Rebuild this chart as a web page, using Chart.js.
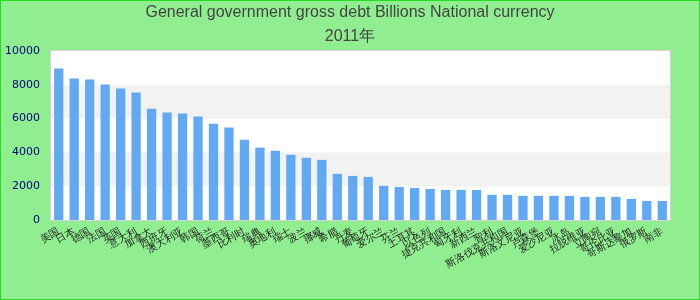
<!DOCTYPE html>
<html>
  <head>
    <title>General government gross debt</title>
    <script src="https://cdn.jsdelivr.net/npm/chart.js"></script>
    <style>
      body { margin: 0; }
      .frame { width: 700px; height: 300px; box-sizing: border-box; border: 1px solid #22dd22; background: #90ee90; }
    </style>
  </head>
  <body>
    <div class="frame">
      <canvas id="debtChart" width="698" height="298"></canvas>
    </div>
    <script>
  const countries = [
    "美国", "日本", "德国", "法国", "英国", "意大利", "加拿大", "西班牙",
    "澳大利亚", "韩国", "荷兰", "墨西哥", "比利时", "瑞典", "奥地利", "瑞士",
    "波兰", "挪威", "希腊", "丹麦", "葡萄牙", "爱尔兰", "芬兰", "土耳其",
    "以色列", "捷克共和国", "匈牙利", "新西兰", "智利", "斯洛伐克共和国",
    "斯洛文尼亚", "卢森堡", "爱沙尼亚", "冰岛", "拉脱维亚", "立陶宛",
    "哥伦比亚", "哥斯达黎加", "俄罗斯", "南非"
  ];
  const debt2011 = [
    8970, 8380, 8320, 8020, 7780, 7550, 6590, 6360, 6300, 6120,
    5700, 5470, 4750, 4280, 4100, 3860, 3680, 3560, 2730, 2610,
    2550, 2020, 1960, 1900, 1840, 1780, 1780, 1780, 1490, 1490,
    1430, 1430, 1430, 1430, 1370, 1370, 1370, 1250, 1130, 1130
  ];
  const yTicks = [0, 2000, 4000, 6000, 8000, 10000];

  // white plot area with grey bands every other step
  const plotBackground = {
    id: 'plotBackground',
    beforeDraw(chart) {
      const { ctx, chartArea: a, scales: { y } } = chart;
      ctx.save();
      ctx.fillStyle = '#ffffff';
      ctx.fillRect(a.left, a.top, a.right - a.left, a.bottom - a.top);
      ctx.fillStyle = '#f2f2f2';
      for (let i = 1; i < yTicks.length - 1; i += 2) {
        const top = y.getPixelForValue(yTicks[i + 1]);
        const bottom = y.getPixelForValue(yTicks[i]);
        ctx.fillRect(a.left, top, a.right - a.left, bottom - top);
      }
      ctx.strokeStyle = '#d4d4d4';
      ctx.lineWidth = 1;
      ctx.strokeRect(a.left - 0.5, a.top - 0.5, a.right - a.left + 1, a.bottom - a.top + 1);
      ctx.restore();
    }
  };

  new Chart(document.getElementById('debtChart'), {
    type: 'bar',
    data: {
      labels: countries,
      datasets: [{
        label: '2011年',
        data: debt2011,
        backgroundColor: '#62a9f3',
        categoryPercentage: 1,
        barPercentage: 0.6
      }]
    },
    options: {
      responsive: false,
      animation: false,
      layout: { padding: 0 },
      plugins: {
        legend: { display: false },
        tooltip: { enabled: false },
        title: {
          display: true,
          text: 'General government gross debt Billions National currency',
          color: '#444444',
          font: { family: 'Liberation Sans', size: 16, weight: 'normal' },
          padding: { top: 2.4, bottom: 4.8 }
        },
        subtitle: {
          display: true,
          text: '2011年',
          color: '#444444',
          font: { family: 'Liberation Sans', size: 16, weight: 'normal' },
          padding: { top: 0, bottom: 4.4 }
        }
      },
      scales: {
        x: {
          grid: { display: false, drawTicks: false },
          border: { display: false },
          ticks: {
            autoSkip: false,
            minRotation: 30,
            maxRotation: 30,
            padding: 6,
            color: '#222222',
            font: { family: 'DejaVu Sans', size: 10 }
          },
          afterFit(scale) { scale.height = 79; }
        },
        y: {
          min: 0,
          max: 10000,
          grid: { display: false, drawTicks: false },
          border: { display: false },
          afterBuildTicks(scale) { scale.ticks = yTicks.map(v => ({ value: v })); },
          ticks: {
            padding: 11,
            color: '#000080',
            font: { family: 'DejaVu Sans', size: 11 },
            callback: v => String(v)
          },
          afterFit(scale) { scale.width = 50; }
        },
        // empty right-hand axis, only keeps the margin on that side
        spacer: {
          position: 'right',
          min: 0,
          max: 10000,
          grid: { display: false, drawTicks: false },
          border: { display: false },
          ticks: { display: false },
          afterFit(scale) { scale.width = 29; }
        }
      }
    },
    plugins: [plotBackground]
  });
</script>
  </body>
</html>
